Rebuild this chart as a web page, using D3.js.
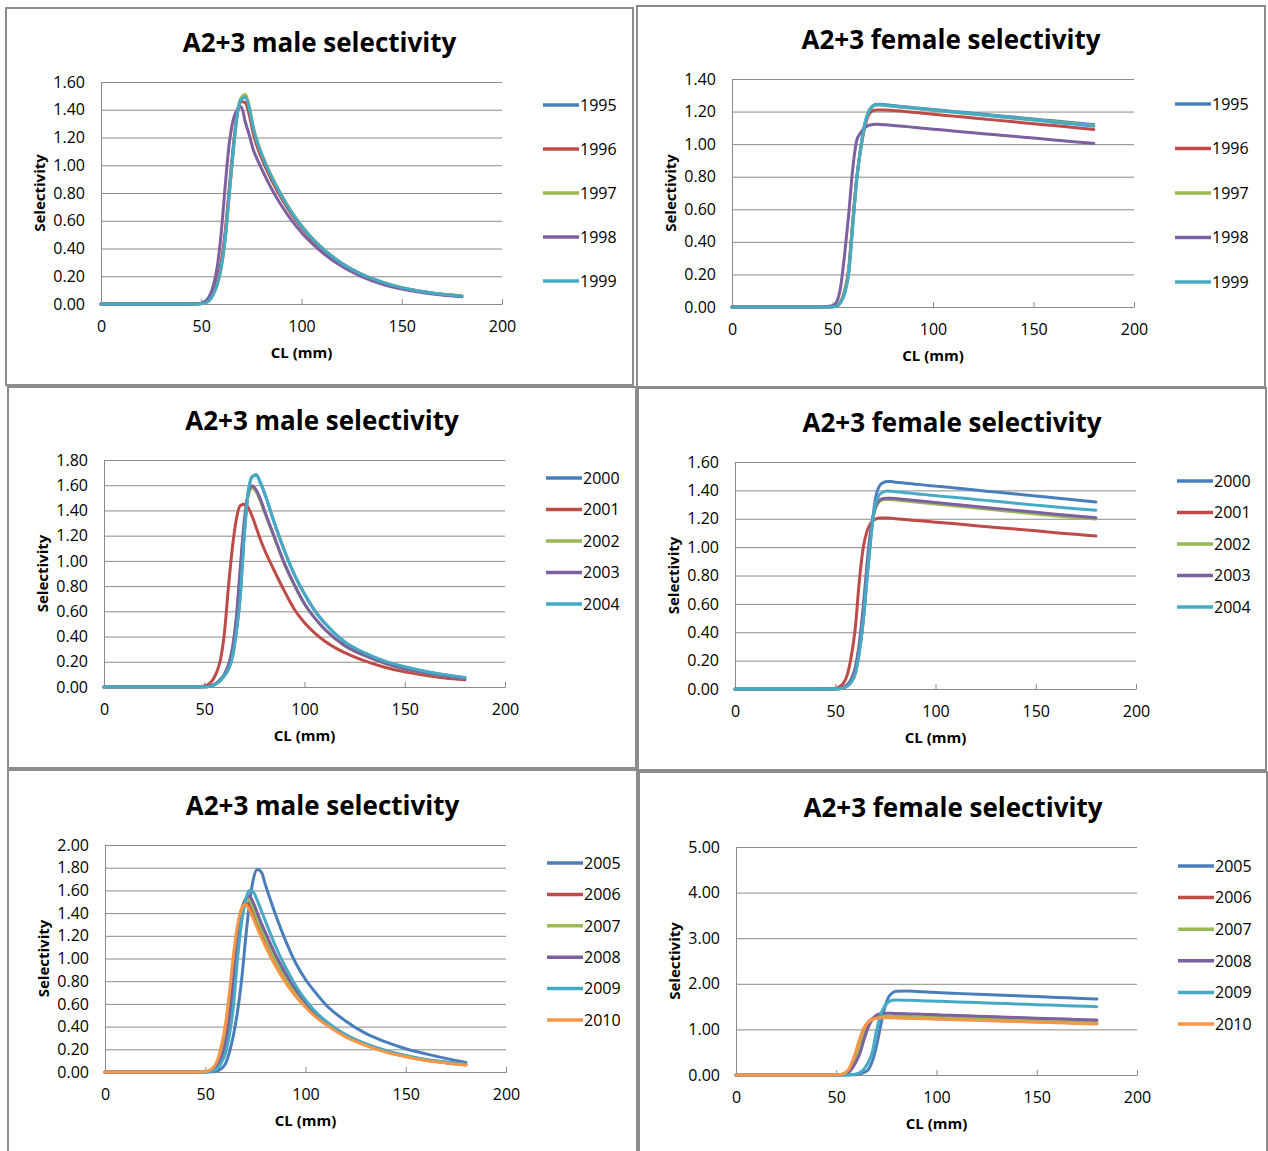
<!DOCTYPE html>
<html>
<head>
<meta charset="utf-8">
<script src="https://cdn.jsdelivr.net/npm/d3@7"></script>
<style>
  body { margin: 0; background: #fff; }
  svg { display: block; }
  text { font-family: "Open Sans", "DejaVu Sans", sans-serif; fill: #000; }
</style>
</head>
<body>
<div id="chart"></div>
<script>
// carapace length grid (mm) shared by every series
var clMm = [0, 10, 20, 30, 40, 46, 50, 52, 54, 56, 58, 60, 62, 64, 66, 68, 70, 72, 74, 76, 78, 80, 85, 90, 95, 100, 105, 110, 120, 130, 140, 150, 160, 170, 180];

var years9599 = ['1995', '1996', '1997', '1998', '1999'];
var years0004 = ['2000', '2001', '2002', '2003', '2004'];
var years0510 = ['2005', '2006', '2007', '2008', '2009', '2010'];

var male9599 = [
  [0,0,0,0,0, 0, 0.003, 0.01, 0.03, 0.08, 0.15, 0.28, 0.49, 0.81, 1.12, 1.38, 1.485, 1.50, 1.40, 1.26, 1.16, 1.08, 0.915, 0.777, 0.66, 0.56, 0.475, 0.405, 0.293, 0.213, 0.158, 0.118, 0.09, 0.071, 0.057],
  [0,0,0,0,0, 0, 0.004, 0.012, 0.035, 0.09, 0.17, 0.31, 0.53, 0.84, 1.14, 1.38, 1.46, 1.45, 1.36, 1.225, 1.13, 1.055, 0.895, 0.762, 0.648, 0.551, 0.469, 0.40, 0.289, 0.21, 0.155, 0.116, 0.089, 0.07, 0.056],
  [0,0,0,0,0, 0, 0.002, 0.008, 0.025, 0.07, 0.14, 0.26, 0.47, 0.79, 1.10, 1.37, 1.49, 1.51, 1.42, 1.275, 1.17, 1.09, 0.925, 0.785, 0.667, 0.566, 0.48, 0.41, 0.296, 0.215, 0.16, 0.119, 0.091, 0.072, 0.058],
  [0,0,0,0,0, 0.002, 0.006, 0.02, 0.055, 0.13, 0.27, 0.52, 0.86, 1.16, 1.33, 1.40, 1.42, 1.31, 1.215, 1.11, 1.04, 0.978, 0.833, 0.71, 0.605, 0.516, 0.44, 0.375, 0.272, 0.198, 0.144, 0.108, 0.083, 0.065, 0.052],
  [0,0,0,0,0, 0, 0.002, 0.008, 0.025, 0.07, 0.14, 0.27, 0.48, 0.80, 1.11, 1.37, 1.475, 1.49, 1.41, 1.265, 1.163, 1.083, 0.918, 0.78, 0.662, 0.562, 0.477, 0.407, 0.294, 0.214, 0.159, 0.118, 0.09, 0.071, 0.057]
];

var female9599 = [
  [0,0,0,0,0, 0, 0.002, 0.006, 0.03, 0.09, 0.21, 0.50, 0.78, 0.97, 1.12, 1.20, 1.235, 1.245, 1.245, 1.243, 1.24, 1.237, 1.231, 1.225, 1.219, 1.213, 1.207, 1.201, 1.19, 1.178, 1.166, 1.154, 1.143, 1.131, 1.12],
  [0,0,0,0,0, 0, 0.002, 0.007, 0.03, 0.10, 0.23, 0.52, 0.79, 0.97, 1.10, 1.18, 1.205, 1.21, 1.21, 1.209, 1.208, 1.207, 1.202, 1.196, 1.19, 1.184, 1.178, 1.172, 1.161, 1.149, 1.137, 1.125, 1.114, 1.102, 1.09],
  [0,0,0,0,0, 0, 0.002, 0.006, 0.03, 0.09, 0.21, 0.50, 0.78, 0.97, 1.12, 1.20, 1.232, 1.24, 1.24, 1.238, 1.235, 1.232, 1.226, 1.22, 1.214, 1.208, 1.202, 1.196, 1.185, 1.173, 1.161, 1.15, 1.138, 1.127, 1.115],
  [0,0,0,0,0, 0.002, 0.008, 0.03, 0.12, 0.32, 0.56, 0.84, 1.02, 1.07, 1.10, 1.115, 1.12, 1.122, 1.121, 1.119, 1.117, 1.115, 1.11, 1.104, 1.098, 1.092, 1.087, 1.081, 1.07, 1.059, 1.048, 1.037, 1.026, 1.015, 1.005],
  [0,0,0,0,0, 0, 0.001, 0.005, 0.025, 0.08, 0.20, 0.48, 0.77, 0.97, 1.12, 1.20, 1.232, 1.242, 1.242, 1.24, 1.237, 1.234, 1.228, 1.222, 1.216, 1.21, 1.203, 1.197, 1.185, 1.173, 1.16, 1.148, 1.135, 1.123, 1.11]
];

var male0004 = [
  [0,0,0,0,0, 0, 0.001, 0.003, 0.01, 0.025, 0.05, 0.09, 0.14, 0.24, 0.44, 0.74, 1.22, 1.55, 1.67, 1.68, 1.62, 1.54, 1.30, 1.08, 0.89, 0.738, 0.608, 0.508, 0.358, 0.268, 0.203, 0.158, 0.123, 0.096, 0.073],
  [0,0,0,0,0, 0.002, 0.008, 0.02, 0.05, 0.11, 0.21, 0.42, 0.78, 1.10, 1.33, 1.44, 1.45, 1.42, 1.35, 1.26, 1.17, 1.09, 0.92, 0.76, 0.615, 0.51, 0.43, 0.365, 0.272, 0.207, 0.157, 0.12, 0.093, 0.072, 0.057],
  [0,0,0,0,0, 0, 0.001, 0.004, 0.012, 0.03, 0.06, 0.10, 0.17, 0.30, 0.54, 0.93, 1.30, 1.52, 1.58, 1.545, 1.475, 1.39, 1.18, 0.975, 0.805, 0.658, 0.548, 0.458, 0.328, 0.248, 0.188, 0.144, 0.111, 0.087, 0.067],
  [0,0,0,0,0, 0, 0.001, 0.004, 0.012, 0.03, 0.06, 0.10, 0.17, 0.30, 0.55, 0.95, 1.32, 1.54, 1.595, 1.56, 1.49, 1.40, 1.19, 0.98, 0.81, 0.66, 0.55, 0.46, 0.33, 0.25, 0.19, 0.145, 0.112, 0.088, 0.068],
  [0,0,0,0,0, 0, 0.001, 0.003, 0.01, 0.025, 0.05, 0.09, 0.14, 0.23, 0.43, 0.72, 1.21, 1.55, 1.67, 1.685, 1.62, 1.54, 1.30, 1.08, 0.89, 0.74, 0.61, 0.51, 0.36, 0.27, 0.205, 0.16, 0.125, 0.098, 0.075]
];

var female0004 = [
  [0,0,0,0,0, 0, 0, 0.002, 0.006, 0.02, 0.05, 0.11, 0.26, 0.48, 0.80, 1.10, 1.34, 1.43, 1.455, 1.462, 1.462, 1.458, 1.451, 1.444, 1.437, 1.43, 1.423, 1.416, 1.402, 1.388, 1.374, 1.36, 1.346, 1.332, 1.318],
  [0,0,0,0,0, 0.001, 0.004, 0.015, 0.04, 0.10, 0.23, 0.43, 0.76, 1.00, 1.12, 1.175, 1.198, 1.205, 1.206, 1.205, 1.203, 1.20, 1.194, 1.188, 1.182, 1.176, 1.17, 1.164, 1.151, 1.139, 1.127, 1.115, 1.102, 1.09, 1.078],
  [0,0,0,0,0, 0, 0.001, 0.003, 0.01, 0.03, 0.07, 0.15, 0.31, 0.56, 0.88, 1.13, 1.27, 1.32, 1.333, 1.335, 1.334, 1.332, 1.325, 1.318, 1.311, 1.304, 1.297, 1.29, 1.276, 1.262, 1.248, 1.234, 1.22, 1.208, 1.198],
  [0,0,0,0,0, 0, 0.001, 0.003, 0.01, 0.03, 0.07, 0.15, 0.32, 0.58, 0.90, 1.15, 1.28, 1.33, 1.343, 1.345, 1.344, 1.342, 1.335, 1.328, 1.321, 1.314, 1.307, 1.30, 1.286, 1.273, 1.259, 1.246, 1.232, 1.219, 1.207],
  [0,0,0,0,0, 0, 0, 0.002, 0.006, 0.02, 0.05, 0.11, 0.26, 0.49, 0.81, 1.10, 1.30, 1.37, 1.39, 1.395, 1.394, 1.39, 1.384, 1.377, 1.37, 1.363, 1.356, 1.35, 1.336, 1.323, 1.309, 1.296, 1.283, 1.271, 1.26]
];

var male0510 = [
  [0,0,0,0,0, 0, 0, 0.001, 0.003, 0.01, 0.03, 0.07, 0.17, 0.32, 0.52, 0.79, 1.15, 1.48, 1.70, 1.785, 1.76, 1.65, 1.39, 1.16, 0.965, 0.815, 0.70, 0.595, 0.45, 0.34, 0.265, 0.205, 0.16, 0.12, 0.085],
  [0,0,0,0,0, 0.001, 0.003, 0.01, 0.03, 0.08, 0.18, 0.35, 0.62, 0.96, 1.25, 1.43, 1.49, 1.46, 1.38, 1.29, 1.21, 1.13, 0.955, 0.805, 0.685, 0.582, 0.495, 0.43, 0.315, 0.24, 0.18, 0.138, 0.105, 0.082, 0.064],
  [0,0,0,0,0, 0.001, 0.002, 0.008, 0.025, 0.06, 0.14, 0.28, 0.52, 0.87, 1.20, 1.42, 1.51, 1.515, 1.44, 1.345, 1.26, 1.18, 0.99, 0.835, 0.705, 0.597, 0.505, 0.437, 0.32, 0.24, 0.18, 0.14, 0.106, 0.083, 0.065],
  [0,0,0,0,0, 0.001, 0.002, 0.006, 0.02, 0.05, 0.12, 0.24, 0.46, 0.80, 1.15, 1.40, 1.52, 1.55, 1.49, 1.40, 1.31, 1.23, 1.035, 0.87, 0.73, 0.615, 0.52, 0.443, 0.325, 0.245, 0.185, 0.142, 0.108, 0.085, 0.066],
  [0,0,0,0,0, 0, 0.001, 0.004, 0.012, 0.03, 0.08, 0.16, 0.32, 0.57, 0.98, 1.30, 1.50, 1.60, 1.585, 1.51, 1.42, 1.33, 1.11, 0.925, 0.765, 0.635, 0.53, 0.45, 0.33, 0.25, 0.19, 0.145, 0.11, 0.088, 0.07],
  [0,0,0,0,0, 0.001, 0.005, 0.015, 0.04, 0.10, 0.23, 0.41, 0.69, 1.02, 1.28, 1.43, 1.475, 1.43, 1.35, 1.265, 1.185, 1.11, 0.935, 0.79, 0.67, 0.57, 0.485, 0.42, 0.31, 0.235, 0.175, 0.135, 0.102, 0.08, 0.062]
];

var female0510 = [
  [0,0,0,0,0, 0, 0, 0, 0, 0.002, 0.005, 0.01, 0.03, 0.06, 0.12, 0.30, 0.62, 1.05, 1.45, 1.70, 1.80, 1.835, 1.84, 1.83, 1.82, 1.81, 1.80, 1.79, 1.772, 1.754, 1.737, 1.72, 1.702, 1.685, 1.667],
  [0,0,0,0,0, 0.001, 0.004, 0.01, 0.03, 0.10, 0.27, 0.52, 0.80, 1.03, 1.16, 1.23, 1.255, 1.265, 1.267, 1.266, 1.265, 1.263, 1.256, 1.25, 1.243, 1.236, 1.23, 1.223, 1.21, 1.196, 1.183, 1.17, 1.156, 1.143, 1.13],
  [0,0,0,0,0, 0.001, 0.003, 0.008, 0.025, 0.08, 0.22, 0.42, 0.68, 0.95, 1.13, 1.23, 1.27, 1.285, 1.29, 1.29, 1.289, 1.288, 1.282, 1.275, 1.269, 1.262, 1.256, 1.249, 1.236, 1.224, 1.211, 1.198, 1.185, 1.173, 1.16],
  [0,0,0,0,0, 0, 0.002, 0.005, 0.015, 0.05, 0.15, 0.30, 0.50, 0.80, 1.05, 1.22, 1.31, 1.345, 1.353, 1.353, 1.352, 1.35, 1.343, 1.336, 1.328, 1.321, 1.313, 1.306, 1.291, 1.276, 1.261, 1.246, 1.232, 1.219, 1.206],
  [0,0,0,0,0, 0, 0, 0, 0.001, 0.003, 0.01, 0.025, 0.06, 0.14, 0.28, 0.50, 0.95, 1.30, 1.50, 1.60, 1.64, 1.645, 1.64, 1.633, 1.625, 1.618, 1.61, 1.603, 1.588, 1.573, 1.558, 1.543, 1.528, 1.513, 1.498],
  [0,0,0,0,0, 0.001, 0.005, 0.012, 0.035, 0.11, 0.29, 0.55, 0.84, 1.04, 1.16, 1.22, 1.245, 1.255, 1.257, 1.256, 1.254, 1.252, 1.245, 1.238, 1.232, 1.225, 1.218, 1.211, 1.198, 1.185, 1.171, 1.158, 1.145, 1.131, 1.118]
];

var xTicks = [0, 50, 100, 150, 200];

var colors = ['#4A7EBB', '#BE4B48', '#98B954', '#7D60A0', '#46AAC5', '#F79646'];
var gridColor = '#8a8a8a';

// layout: frame [x, y, w, h], plot [left, top, right, bottom]
var panels = [
  {title: 'A2+3 male selectivity', years: years9599, series: male9599, yMax: 1.6, yStep: 0.2,
   frame: [6, 8, 627, 377], plot: [101, 82, 502, 304], legTop: 105, legGap: 44},
  {title: 'A2+3 female selectivity', years: years9599, series: female9599, yMax: 1.4, yStep: 0.2,
   frame: [637, 6, 628, 381], plot: [732, 79, 1134, 307], legTop: 104, legGap: 44.5},
  {title: 'A2+3 male selectivity', years: years0004, series: male0004, yMax: 1.8, yStep: 0.2,
   frame: [8, 387, 628, 381], plot: [104, 460, 505, 687], legTop: 478, legGap: 31.5},
  {title: 'A2+3 female selectivity', years: years0004, series: female0004, yMax: 1.6, yStep: 0.2,
   frame: [638, 388, 628, 382], plot: [735, 462, 1136, 689], legTop: 481, legGap: 31.5},
  {title: 'A2+3 male selectivity', years: years0510, series: male0510, yMax: 2.0, yStep: 0.2,
   frame: [8, 770, 629, 392], plot: [105, 845, 506, 1072], legTop: 863, legGap: 31.4},
  {title: 'A2+3 female selectivity', years: years0510, series: female0510, yMax: 5, yStep: 1,
   frame: [639, 772, 628, 392], plot: [736, 847, 1137, 1075], legTop: 866, legGap: 31.6}
];

var svg = d3.select('#chart').append('svg')
    .attr('width', 1268)
    .attr('height', 1151);

svg.append('rect').attr('width', 1268).attr('height', 1151).attr('fill', '#fff');

panels.forEach(function(p) {
  var left = p.plot[0], top = p.plot[1], right = p.plot[2], bottom = p.plot[3];
  var g = svg.append('g');

  g.append('rect')
    .attr('x', p.frame[0]).attr('y', p.frame[1])
    .attr('width', p.frame[2]).attr('height', p.frame[3])
    .attr('fill', '#fff')
    .attr('stroke', '#8c8c8c')
    .attr('stroke-width', 2);

  var x = d3.scaleLinear().domain([0, 200]).range([left, right]);
  var y = d3.scaleLinear().domain([0, p.yMax]).range([bottom, top]);
  var yTicks = d3.range(0, p.yMax + p.yStep / 2, p.yStep);

  // y axis + gridlines
  var yg = g.append('g')
    .attr('transform', 'translate(' + left + ',0)')
    .call(d3.axisLeft(y)
      .tickValues(yTicks)
      .tickFormat(d3.format('.2f'))
      .tickSize(-(right - left))
      .tickSizeOuter(0)
      .tickPadding(16));
  yg.select('.domain').attr('stroke', gridColor);
  yg.selectAll('.tick line').attr('stroke', gridColor);
  yg.selectAll('.tick text').attr('font-size', 16).attr('font-family', '"Open Sans", sans-serif');

  // x axis with small inside ticks
  var xg = g.append('g')
    .attr('transform', 'translate(0,' + bottom + ')')
    .call(d3.axisBottom(x)
      .tickValues(xTicks)
      .tickSize(-5)
      .tickSizeOuter(0)
      .tickPadding(17));
  xg.select('.domain').attr('stroke', gridColor);
  xg.selectAll('.tick line').attr('stroke', gridColor);
  xg.selectAll('.tick text').attr('font-size', 16).attr('font-family', '"Open Sans", sans-serif');

  // title
  g.append('text')
    .attr('x', p.frame[0] + p.frame[2] / 2)
    .attr('y', top - 30)
    .attr('text-anchor', 'middle')
    .attr('font-size', 26)
    .attr('font-weight', 'bold')
    .text(p.title);

  // axis titles
  g.append('text')
    .attr('transform', 'translate(' + (left - 56) + ',' + ((top + bottom) / 2) + ') rotate(-90)')
    .attr('text-anchor', 'middle')
    .attr('font-size', 15)
    .attr('font-weight', 'bold')
    .text('Selectivity');

  g.append('text')
    .attr('x', (left + right) / 2)
    .attr('y', bottom + 54)
    .attr('text-anchor', 'middle')
    .attr('font-size', 15)
    .attr('font-weight', 'bold')
    .text('CL (mm)');

  // series
  var line = d3.line()
    .x(function(d, i) { return x(clMm[i]); })
    .y(function(d) { return y(d); })
    .curve(d3.curveMonotoneX);

  g.selectAll('path.series')
    .data(p.series)
    .enter().append('path')
    .attr('class', 'series')
    .attr('d', line)
    .attr('fill', 'none')
    .attr('stroke', function(d, i) { return colors[i]; })
    .attr('stroke-width', 3)
    .attr('stroke-linejoin', 'round')
    .attr('stroke-linecap', 'round');

  // legend
  var legX = right + 41;
  var leg = g.selectAll('g.leg')
    .data(p.years)
    .enter().append('g')
    .attr('class', 'leg')
    .attr('transform', function(d, i) { return 'translate(' + legX + ',' + (p.legTop + i * p.legGap) + ')'; });
  leg.append('line')
    .attr('x1', 0).attr('x2', 36)
    .attr('stroke', function(d, i) { return colors[i]; })
    .attr('stroke-width', 3.5);
  leg.append('text')
    .attr('x', 37)
    .attr('dy', '0.36em')
    .attr('font-size', 16)
    .text(function(d) { return d; });
});
</script>
</body>
</html>
